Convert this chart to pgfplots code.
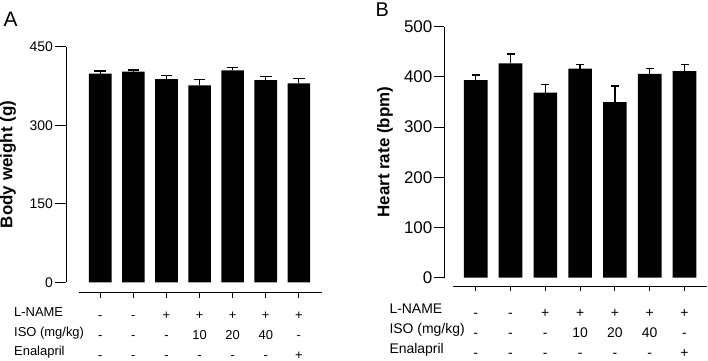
\documentclass[border=0pt]{standalone}
\usepackage{fontspec}
\setmainfont{Liberation Sans}
\usepackage{pgfplots}
\usepackage{pgfplotstable}
\pgfplotsset{compat=1.18}

% group index, mean, SEM
\pgfplotstableread{
g  m      e
0  398.4  5.2
1  402.3  3.2
2  388.3  6.3
3  376.3  10.7
4  404.9  5.8
5  386.4  6.3
6  380.1  8.8
}\bodyweight

\pgfplotstableread{
g  m      e
0  393.8  10.0
1  427.1  18.5
2  368.5  16.0
3  416.3  8.0
4  350.0  31.9
5  405.8  10.5
6  411.7  12.6
}\heartrate

\pgfplotsset{
  panel/.style={
    scale only axis, clip=false,
    axis y line*=left, axis x line=none,
    ymin=0, tick align=outside,
    axis line style={line width=1bp, black},
    every tick/.style={line width=1bp, black},
    /pgf/number format/assume math mode=true,
    ybar, bar shift=0pt,
    ylabel style={font=\fontsize{17}{20}\selectfont\bfseries},
  },
  rows/.style={
    scale only axis, height=0.5bp, ymin=0, ymax=1,
    axis y line=none, axis x line*=bottom,
    axis line style={line width=1bp, black},
    every tick/.style={line width=1bp, black},
    xtick={0,...,6}, tick align=outside, major tick length=5bp,
    xticklabels={{-\\-\\-},{-\\-\\-},{+\\-\\-},{+\\10\\-},{+\\20\\-},{+\\40\\-},{+\\-\\+}},
  },
}
\tikzset{rowhead/.style={anchor=base west, inner sep=1bp}}

\begin{document}
\begin{tikzpicture}
\path[use as bounding box] (0,0) rectangle (708bp,-361bp);

% ---------- A: body weight ----------
\begin{axis}[panel,
  at={(66bp,-282.3bp)}, anchor=south west,
  width=256bp, height=235.6bp,
  xmin=-1.036, xmax=6.7, ymax=450,
  ytick={0,150,300,450}, major tick length=11bp,
  yticklabel style={font=\fontsize{14}{16}\selectfont, inner xsep=2bp},
  bar width=22.6bp,
  ylabel={Body weight (g)},
  ylabel style={at={([xshift=-58bp]axis description cs:0,0.5)}, anchor=center},
]
\addplot[fill=black, draw=none,
  error bars/.cd, y dir=plus, y explicit,
  error bar style={line width=1.3bp, black},
  error mark options={rotate=90, line width=1.3bp, black, mark size=5.8bp}]
  table[x=g, y=m, y error=e] {\bodyweight};
\end{axis}

% treatment rows; the label's base is its last line
\begin{axis}[rows,
  at={(79bp,-292.7bp)}, anchor=south west,
  width=242.7bp, xmin=-0.6435, xmax=6.69,
  xticklabel style={font=\fontsize{13}{20}\selectfont, align=center, anchor=base,
    inner ysep=0pt, yshift=-62bp},
]
\end{axis}

\begin{scope}[every node/.style={rowhead, font=\fontsize{13}{20}\selectfont}]
\node at (13bp,-316.5bp) {L-NAME};
\node at (13bp,-336.5bp) {ISO (mg/kg)};
\node at (13bp,-355.5bp) {Enalapril};
\end{scope}
\node[anchor=base west, font=\fontsize{21}{24}\selectfont, inner sep=0pt] at (3.5bp,-26.5bp) {A};

% ---------- B: heart rate ----------
\begin{axis}[panel,
  at={(444bp,-277.7bp)}, anchor=south west,
  width=264.9bp, height=251bp,
  xmin=-0.911, xmax=6.7, ymax=500,
  ytick={0,100,...,500}, major tick length=10.5bp,
  yticklabel style={font=\fontsize{17}{19}\selectfont, inner xsep=1bp},
  bar width=23.6bp,
  ylabel={Heart rate (bpm)},
  ylabel style={at={([xshift=-59bp]axis description cs:0,0.5)}, anchor=center},
]
\addplot[fill=black, draw=none,
  error bars/.cd, y dir=plus, y explicit,
  error bar style={line width=1.3bp, black},
  error mark options={rotate=90, line width=1.3bp, black, mark size=4bp}]
  table[x=g, y=m, y error=e] {\heartrate};
\end{axis}

\begin{axis}[rows,
  at={(453bp,-286bp)}, anchor=south west,
  width=254.1bp, xmin=-0.652, xmax=6.65,
  xticklabel style={font=\fontsize{14}{20}\selectfont, align=center, anchor=base,
    inner ysep=0pt, yshift=-66bp},
]
\end{axis}

\begin{scope}[every node/.style={rowhead, font=\fontsize{14}{20}\selectfont}]
\node at (388.3bp,-313bp) {L-NAME};
\node at (388.3bp,-333bp) {ISO (mg/kg)};
\node at (388.3bp,-353bp) {Enalapril};
\end{scope}
\node[anchor=base west, font=\fontsize{20}{24}\selectfont, inner sep=0pt] at (375.5bp,-16.7bp) {B};
\end{tikzpicture}
\end{document}
